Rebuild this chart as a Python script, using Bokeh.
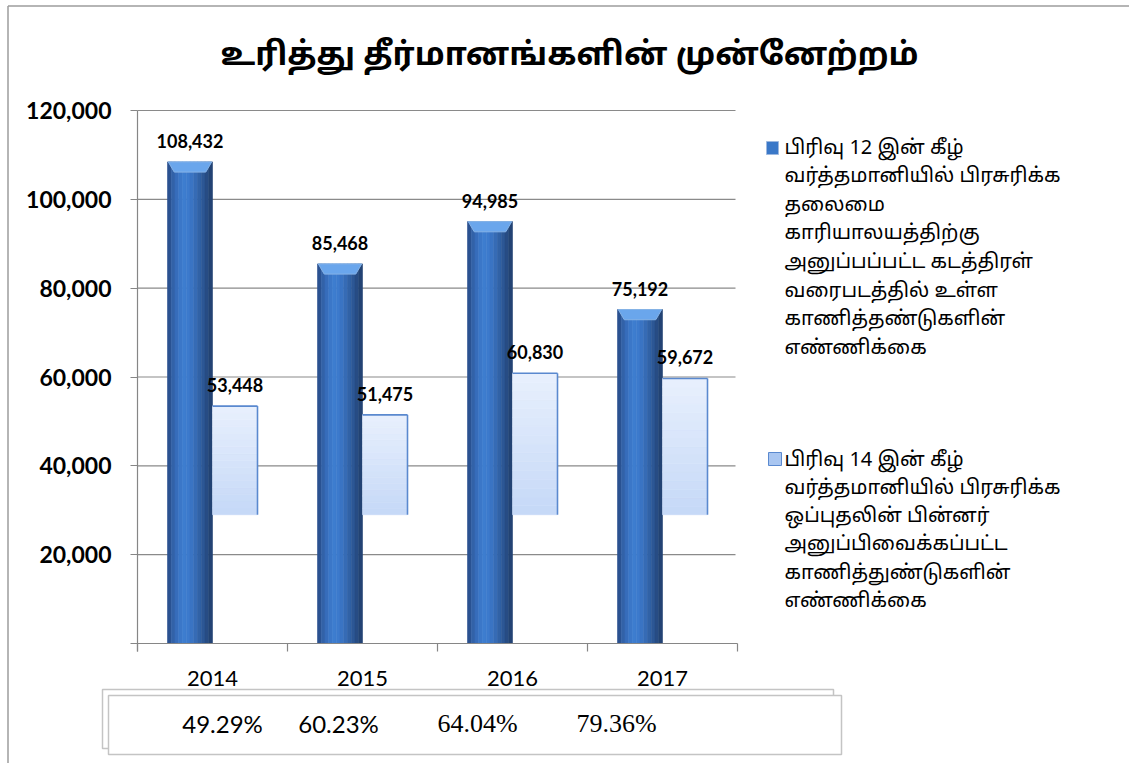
import numpy as np
from bokeh.plotting import figure
from bokeh.models import Range1d, FixedTicker, NumeralTickFormatter, LinearAxis
from bokeh.core.properties import value
from bokeh.embed import file_html
from bokeh.resources import INLINE

# ---------------- data ----------------
years = ["2014", "2015", "2016", "2017"]
sec12_parcels = [108432, 85468, 94985, 75192]
sec14_parcels = [53448, 51475, 60830, 59672]
pct_labels = ["49.29%", "60.23%", "64.04%", "79.36%"]
y_ticks = [0, 20000, 40000, 60000, 80000, 100000, 120000]
title_text = "உரித்து தீர்மானங்களின் முன்னேற்றம்"
legend12_lines = ["பிரிவு 12 இன் கீழ்", "வர்த்தமானியில் பிரசுரிக்க", "தலைமை",
                  "காரியாலயத்திற்கு", "அனுப்பப்பட்ட கடத்திரள்", "வரைபடத்தில் உள்ள",
                  "காணித்தண்டுகளின்", "எண்ணிக்கை"]
legend14_lines = ["பிரிவு 14 இன் கீழ்", "வர்த்தமானியில் பிரசுரிக்க", "ஒப்புதலின் பின்னர்",
                  "அனுப்பிவைக்கப்பட்ட", "காணித்துண்டுகளின்", "எண்ணிக்கை"]

# ---------------- layout (page pixels) ----------------
W, H = 1129, 763
X0, XS = 137.0, 150.0             # page x of category edge 0, px per category
Y0, YS = 643.0, 533.0 / 120000    # page y of value 0, px per unit
LIGHT_BASE = 29000                # visible foot of the pale 3-D columns
TAMIL = "Noto Sans Tamil"


def dx(px):
    return (px - X0) / XS


def dy(py):
    return (Y0 - py) / YS


Y_LOW = dy(651)

p = figure(width=W, height=H, output_backend="svg", toolbar_location=None,
           x_range=Range1d(dx(0), dx(W)), y_range=Range1d(dy(H), dy(0)),
           x_axis_location=None, y_axis_location=None,
           min_border=0, min_border_left=0, min_border_right=0,
           min_border_top=0, min_border_bottom=0)
p.title.visible = False
p.outline_line_color = None
p.background_fill_color = "white"
p.border_fill_color = "white"
p.xgrid.visible = False
p.ygrid.visible = False

n = len(years)
cx = np.arange(n) + 0.5
s12 = np.array(sec12_parcels, dtype=float)
s14 = np.array(sec14_parcels, dtype=float)

# ---- outer frame lines ----
p.segment(x0=[dx(7.5), dx(7.5)], x1=[dx(7.5), dx(W + 5)],
          y0=[dy(5.5), dy(5.5)], y1=[dy(H + 5), dy(5.5)],
          line_color="#9c9c9c", line_width=1.5)

# ---- title ----
p.text(x=[dx(569)], y=[dy(56)], text=[title_text], text_align="center",
       text_baseline="middle", text_font=value(TAMIL),
       text_font_style="bold", text_font_size="32px", text_color="black")

# ---- horizontal gridlines ----
gy = np.array(y_ticks[1:], dtype=float)
p.segment(x0=np.zeros(len(gy)), x1=np.full(len(gy), dx(735)), y0=gy, y1=gy,
          line_color="#8a8a8a", line_width=1.2)

# ---- dark columns (horizontal shading strips) ----
profile = ["#2a5190", "#3262a8", "#376dbb", "#3b77c8", "#3d7dcf", "#3c7acc",
           "#3a74c3", "#366bb5", "#3162a6", "#2c5795", "#274c84", "#234374"]
sw = 0.3 / len(profile)
for k, col in enumerate(profile):
    p.vbar(x=cx - 0.3 + (k + 0.5) * sw, width=sw, top=s12, bottom=0,
           fill_color=col, line_color=col, line_width=0.6)
cap_xs = [[c - 0.295, c - 0.005, c - 0.045, c - 0.255] for c in cx]
cap_ys = [[v, v, v - 2300, v - 2300] for v in s12]
p.patches(cap_xs, cap_ys, fill_color="#6aa6ec", line_color="#86b3e6", line_width=1)

# ---- pale columns (vertical gradient slices) ----
ns = 16
c_bot = np.array([0xc5, 0xd8, 0xf7])
c_top = np.array([0xe8, 0xf0, 0xfd])
for k in range(ns):
    f0, f1 = k / ns, (k + 1) / ns
    col = c_bot + (c_top - c_bot) * (k + 0.5) / ns
    hexc = "#%02x%02x%02x" % tuple(int(round(v)) for v in col)
    p.vbar(x=cx + 0.15, width=0.3, bottom=LIGHT_BASE + (s14 - LIGHT_BASE) * f0,
           top=LIGHT_BASE + (s14 - LIGHT_BASE) * f1, fill_color=hexc,
           line_color=hexc, line_width=0.6)
p.segment(x0=cx, x1=cx + 0.3, y0=s14, y1=s14, line_color="#5a89cf", line_width=1.6)
p.segment(x0=cx + 0.3, x1=cx + 0.3, y0=np.full(n, LIGHT_BASE), y1=s14,
          line_color="#5a89cf", line_width=1.6)

# ---- value labels ----
p.text(x=cx - 0.15, y=s12, text=[f"{v:,}" for v in sec12_parcels],
       text_align="center", text_baseline="middle", y_offset=-21,
       text_font=value("Lato"), text_font_style="bold", text_font_size="18px",
       text_color="black")
p.text(x=cx + 0.15, y=s14, text=[f"{v:,}" for v in sec14_parcels],
       text_align="center", text_baseline="middle", y_offset=-21,
       text_font=value("Lato"), text_font_style="bold", text_font_size="18px",
       text_color="black")

# ---- axes (placed at the data origin) ----
yax = LinearAxis(fixed_location=0, bounds=(Y_LOW, 120000),
                 ticker=FixedTicker(ticks=y_ticks),
                 formatter=NumeralTickFormatter(format="0,0"))
yax.major_label_overrides = {0: ""}
yax.axis_line_color = "#868686"
yax.axis_line_width = 1.2
yax.major_tick_line_color = "#868686"
yax.major_tick_line_width = 1.2
yax.major_tick_out = 7
yax.major_tick_in = 0
yax.minor_tick_line_color = None
yax.major_label_standoff = 19
yax.major_label_text_font = "Lato"
yax.major_label_text_font_style = "bold"
yax.major_label_text_font_size = "23px"
yax.major_label_text_color = "black"
p.add_layout(yax, "left")

xax_ticks = LinearAxis(fixed_location=0, bounds=(0, n),
                       ticker=FixedTicker(ticks=list(range(n + 1))))
xax_ticks.axis_line_color = "#868686"
xax_ticks.axis_line_width = 1.2
xax_ticks.major_tick_line_color = "#868686"
xax_ticks.major_tick_line_width = 1.2
xax_ticks.major_tick_out = 8
xax_ticks.major_tick_in = 0
xax_ticks.minor_tick_line_color = None
xax_ticks.major_label_text_color = None
p.add_layout(xax_ticks, "below")

xax = LinearAxis(fixed_location=0, ticker=FixedTicker(ticks=list(cx)))
xax.major_label_overrides = {float(c): y for c, y in zip(cx, years)}
xax.axis_line_color = None
xax.major_tick_line_color = None
xax.minor_tick_line_color = None
xax.major_label_standoff = 21
xax.major_label_text_font = "Lato"
xax.major_label_text_font_size = "22px"
xax.major_label_text_color = "black"
p.add_layout(xax, "below")

# ---- legend ----
p.quad(left=[dx(766)], right=[dx(778)], top=[dy(141)], bottom=[dy(154)],
       fill_color="#3a78c8", line_color="#9db8df", line_width=1)
p.quad(left=[dx(768)], right=[dx(781)], top=[dy(452)], bottom=[dy(465)],
       fill_color="#a9c6f1", line_color="#5a89cf", line_width=1)
p.text(x=np.full(len(legend12_lines), dx(784)),
       y=[dy(148 + i * 28.6) for i in range(len(legend12_lines))],
       text=legend12_lines, text_align="left", text_baseline="middle",
       text_font=value(TAMIL), text_font_size="20px", text_color="black")
p.text(x=np.full(len(legend14_lines), dx(784)),
       y=[dy(460 + i * 28.3) for i in range(len(legend14_lines))],
       text=legend14_lines, text_align="left", text_baseline="middle",
       text_font=value(TAMIL), text_font_size="20px", text_color="black")

# ---- percentage table ----
p.quad(left=[dx(102), dx(108)], right=[dx(833), dx(841)],
       top=[dy(689), dy(695)], bottom=[dy(748), dy(754)],
       fill_color="white", line_color="#c4c4c4", line_width=1.5)
pct_x = [222, 338, 477, 616]
p.text(x=[dx(v) for v in pct_x[:2]], y=[dy(723)] * 2, text=pct_labels[:2],
       text_align="center", text_baseline="middle", text_font=value("Lato"),
       text_font_size="24px", text_color="black")
p.text(x=[dx(v) for v in pct_x[2:]], y=[dy(723)] * 2, text=pct_labels[2:],
       text_align="center", text_baseline="middle",
       text_font=value("Liberation Serif"), text_font_size="26px", text_color="black")

open("out.html", "w").write(file_html(p, INLINE))
